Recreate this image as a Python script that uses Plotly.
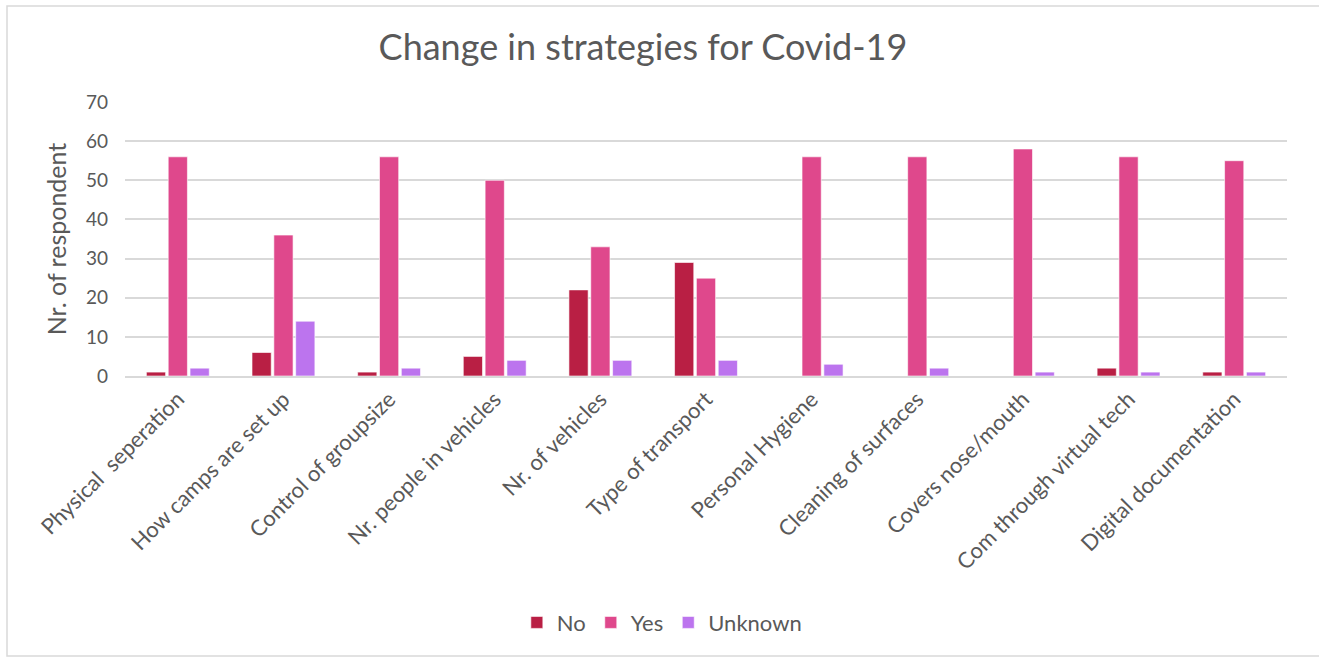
import plotly.graph_objects as go

categories = ["Physical  seperation", "How camps are set up", "Control of groupsize",
              "Nr. people in vehicles", "Nr. of vehicles", "Type of transport",
              "Personal Hygiene", "Cleaning of surfaces", "Covers nose/mouth",
              "Com through virtual tech", "Digital documentation"]
no_vals = [1, 6, 1, 5, 22, 29, 0, 0, 0, 2, 1]
yes_vals = [56, 36, 56, 50, 33, 25, 56, 56, 58, 56, 55]
unknown_vals = [2, 14, 2, 4, 4, 4, 3, 2, 1, 1, 1]

FONT = "Lato"
GREY = "#595959"

fig = go.Figure()
for name, vals, col in [("No", no_vals, "#B91F44"), ("Yes", yes_vals, "#DF488C"),
                        ("Unknown", unknown_vals, "#BC74EE")]:
    fig.add_trace(go.Bar(name=name, x=categories, y=vals, marker_color=col,
                         marker_line=dict(color="rgba(255,255,255,0.6)", width=1)))

fig.update_layout(
    width=1319, height=662,
    paper_bgcolor="white", plot_bgcolor="white",
    margin=dict(l=125, r=32, t=102, b=286),
    barmode="group", bargap=0.38, bargroupgap=0.12,
    title=dict(text="Change in strategies for Covid-19", x=643 / 1319, xanchor="center",
               y=1 - 47 / 662, yref="container", yanchor="middle",
               font=dict(family=FONT, size=36, color=GREY)),
    font=dict(family=FONT, color=GREY),
    legend=dict(orientation="h", x=0.462, xanchor="center", y=-0.9, yanchor="middle",
                font=dict(size=22, color=GREY), traceorder="normal"),
    xaxis=dict(tickangle=-45, tickfont=dict(size=22, color=GREY), showgrid=False,
               showline=True, linecolor="#D9D9D9", linewidth=1.5, ticks=""),
    yaxis=dict(range=[0, 70], dtick=10, tickfont=dict(size=19, color=GREY),
               gridcolor="#D9D9D9", gridwidth=1.5, zeroline=False, ticks="",
               ticklen=0, ticklabelstandoff=16,
               title=dict(text="Nr. of respondent", font=dict(size=25, color=GREY),
                          standoff=12)),
    shapes=[dict(type="rect", xref="paper", yref="paper", x0=-118/1162, x1=1307/1162,
                 y0=-(656-376)/274, y1=(376-6)/274, line=dict(color="#D9D9D9", width=1.5))]
)
fig.write_html("out.html")
